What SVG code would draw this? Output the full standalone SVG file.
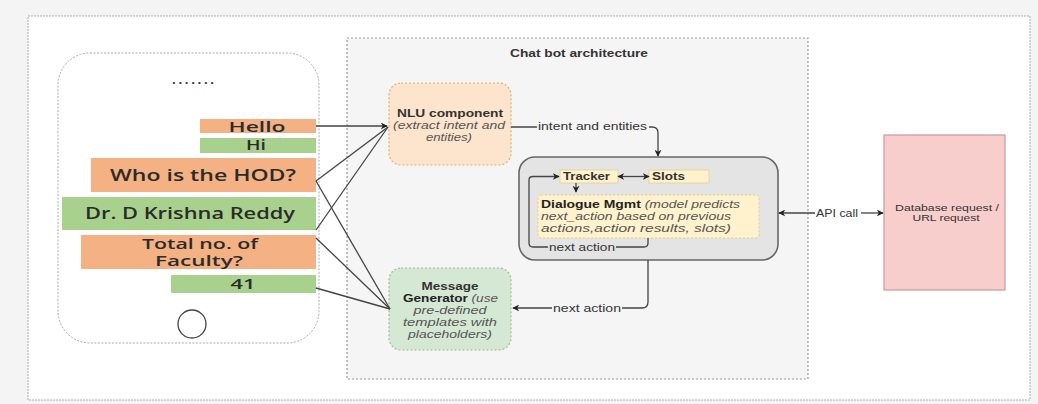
<svg xmlns="http://www.w3.org/2000/svg" width="1038" height="404" viewBox="0 0 1038 404">
<defs>
<style>
.lbl{font-family:"Liberation Sans",Arial,sans-serif;fill:#333;}
.b{font-weight:bold;}
.i{font-style:italic;fill:#555;}
.bub{font-family:"Open Sans","Noto Sans",sans-serif;font-weight:600;font-size:15px;fill:#2b2b2b;text-anchor:middle;}
.or{fill:#f4b183;}
.gr{fill:#a9d18e;}
.con{fill:none;stroke:#444;stroke-width:1.3;}
</style>
<marker id="ah" viewBox="0 0 10 10" refX="9" refY="5" markerWidth="7" markerHeight="7" markerUnits="userSpaceOnUse" orient="auto-start-reverse">
<path d="M0,0 L10,5 L0,10 L3,5 Z" fill="#222"/>
</marker>
</defs>
<rect x="0" y="0" width="1038" height="404" fill="#f4f4f4"/>
<rect x="28" y="16" width="1002" height="384" fill="#fff" stroke="#aaa" stroke-width="1" stroke-dasharray="2 1"/>

<g id="phone">
<rect x="58" y="53" width="261" height="290" rx="32" fill="#fff" stroke="#aaa" stroke-dasharray="2 1.5"/>
<text x="193" y="84" class="bub" style="font-size:13px;font-weight:700;fill:#333" textLength="42" lengthAdjust="spacing">.......</text>
<circle cx="192" cy="324" r="14" fill="none" stroke="#444" stroke-width="1.3"/>
</g>
<g id="msg-hello"><rect class="or" x="200" y="119" width="116" height="14"/><text class="bub" x="257" y="132" textLength="57" lengthAdjust="spacingAndGlyphs">Hello</text></g>
<g id="msg-hi"><rect class="gr" x="200" y="138" width="116" height="15"/><text class="bub" x="256" y="150" textLength="20" lengthAdjust="spacingAndGlyphs">Hi</text></g>
<g id="msg-hod"><rect class="or" x="91" y="158" width="225" height="34"/><text class="bub" x="203" y="181" textLength="186" lengthAdjust="spacingAndGlyphs" style="font-size:15.5px">Who is the HOD?</text></g>
<g id="msg-reddy"><rect class="gr" x="62" y="197" width="254" height="33"/><text class="bub" x="190" y="219" textLength="210" lengthAdjust="spacingAndGlyphs" style="font-size:15.5px">Dr. D Krishna Reddy</text></g>
<g id="msg-total"><rect class="or" x="81" y="235" width="235" height="34"/><text class="bub" x="200" y="249" textLength="116" lengthAdjust="spacingAndGlyphs" style="font-size:14px">Total no. of</text><text class="bub" x="199" y="266" textLength="88" lengthAdjust="spacingAndGlyphs" style="font-size:14px">Faculty?</text></g>
<g id="msg-41"><rect class="gr" x="171" y="275" width="145" height="18"/><text class="bub" x="243" y="289" textLength="25" lengthAdjust="spacingAndGlyphs">41</text></g>

<g id="chatbot-container">
<rect x="347" y="38" width="461" height="341" fill="#f5f5f5" stroke="#999" stroke-width="1.2" stroke-dasharray="2 2"/>
<text class="lbl b" x="579" y="57" font-size="11" text-anchor="middle" textLength="138" lengthAdjust="spacingAndGlyphs" fill="#222">Chat bot architecture</text>
</g>

<g id="nlu">
<rect x="389" y="83" width="122" height="82" rx="12" fill="#fde4cc" stroke="#e0b070" stroke-width="1.2" stroke-dasharray="2 2"/>
<text class="lbl b" x="450" y="117" font-size="11.5" text-anchor="middle" textLength="106" lengthAdjust="spacingAndGlyphs" fill="#222">NLU component</text>
<text class="lbl i" x="449" y="129" font-size="11" text-anchor="middle" textLength="112" lengthAdjust="spacingAndGlyphs">(extract intent and</text>
<text class="lbl i" x="449" y="141" font-size="11" text-anchor="middle" textLength="46" lengthAdjust="spacingAndGlyphs">entities)</text>
</g>

<g id="dialogue-group">
<rect x="519" y="157" width="259" height="103" rx="16" fill="#e4e4e4" stroke="#666" stroke-width="1.6"/>
</g>
<g id="tracker">
<rect x="560" y="170" width="58" height="13" fill="#fff2cc" stroke="#e6d49a" stroke-width="1"/>
<text class="lbl b" x="563" y="180" font-size="10.5" textLength="47" lengthAdjust="spacingAndGlyphs" fill="#222">Tracker</text>
</g>
<g id="slots">
<rect x="649" y="170" width="60" height="13" fill="#fff2cc" stroke="#e6d49a" stroke-width="1"/>
<text class="lbl b" x="652" y="180" font-size="10.5" textLength="33" lengthAdjust="spacingAndGlyphs" fill="#222">Slots</text>
</g>
<g id="dialogue-mgmt">
<rect x="538" y="195" width="221" height="43" rx="3" fill="#fff2cc" stroke="#e0cc88" stroke-width="1" stroke-dasharray="2 2"/>
<text class="lbl" x="541" y="208" font-size="10.5" textLength="199" lengthAdjust="spacingAndGlyphs"><tspan class="b" fill="#222">Dialogue Mgmt</tspan><tspan class="i"> (model predicts</tspan></text>
<text class="lbl i" x="541" y="220" font-size="10.5" textLength="190" lengthAdjust="spacingAndGlyphs">next_action based on previous</text>
<text class="lbl i" x="541" y="232" font-size="10.5" textLength="190" lengthAdjust="spacingAndGlyphs">actions,action results, slots)</text>
</g>

<g id="msg-generator">
<rect x="389" y="268" width="122" height="82" rx="12" fill="#d5e8d4" stroke="#9cc08f" stroke-width="1.2" stroke-dasharray="2 2"/>
<text class="lbl b" x="450" y="290" font-size="11.5" text-anchor="middle" textLength="57" lengthAdjust="spacingAndGlyphs" fill="#222">Message</text>
<text class="lbl" x="403" y="302" font-size="11" textLength="95" lengthAdjust="spacingAndGlyphs"><tspan class="b" fill="#222">Generator</tspan><tspan class="i"> (use</tspan></text>
<text class="lbl i" x="450" y="314" font-size="11" text-anchor="middle" textLength="73" lengthAdjust="spacingAndGlyphs">pre-defined</text>
<text class="lbl i" x="450" y="326" font-size="11" text-anchor="middle" textLength="94" lengthAdjust="spacingAndGlyphs">templates with</text>
<text class="lbl i" x="450" y="338" font-size="11" text-anchor="middle" textLength="84" lengthAdjust="spacingAndGlyphs">placeholders)</text>
</g>

<g id="database">
<rect x="884" y="135" width="121" height="155" fill="#f8cecc" stroke="#c99" stroke-width="1.2"/>
<text class="lbl" x="947" y="211" font-size="9" text-anchor="middle" textLength="104" lengthAdjust="spacingAndGlyphs" fill="#664">Database request /</text>
<text class="lbl" x="946" y="221" font-size="9" text-anchor="middle" textLength="67" lengthAdjust="spacingAndGlyphs" fill="#664">URL request</text>
</g>

<g id="connectors">
<path class="con" d="M316,126 L387,126" marker-end="url(#ah)"/>
<path class="con" d="M316,181 L388,127"/>
<path class="con" d="M316,230 L388,127"/>
<path class="con" d="M316,181 L390,309"/>
<path class="con" d="M316,238 L390,309"/>
<path class="con" d="M316,288 L390,309"/>
<path class="con" d="M511,127 L652,127 Q658,127 658,133 L658,156" marker-end="url(#ah)"/>
<rect x="537" y="120" width="112" height="12" fill="#f5f5f5"/>
<text class="lbl" x="538" y="130" font-size="10.5" textLength="109" lengthAdjust="spacingAndGlyphs" fill="#444">intent and entities</text>
<path class="con" d="M618,176.5 L649,176.5" marker-start="url(#ah)" marker-end="url(#ah)"/>
<path class="con" d="M576,183 L576,192" marker-end="url(#ah)"/>
<path class="con" d="M648,238 L648,243 Q648,247 644,247 L533,247 Q529,247 529,243 L529,180 Q529,176.5 533,176.5 L559,176.5" marker-end="url(#ah)"/>
<rect x="548" y="242" width="68" height="11" fill="#e4e4e4"/>
<text class="lbl" x="549" y="251" font-size="10.5" textLength="66" lengthAdjust="spacingAndGlyphs" fill="#444">next action</text>
<path class="con" d="M648,260 L648,302 Q648,308 642,308 L513,308" marker-end="url(#ah)"/>
<rect x="552" y="302" width="70" height="12" fill="#f5f5f5"/>
<text class="lbl" x="553" y="312" font-size="10.5" textLength="68" lengthAdjust="spacingAndGlyphs" fill="#444">next action</text>
<path class="con" d="M815,213 L779,213" marker-end="url(#ah)"/>
<text class="lbl" x="816" y="217" font-size="11" textLength="42" lengthAdjust="spacingAndGlyphs" fill="#444">API call</text>
<path class="con" d="M861,213 L883,213" marker-end="url(#ah)"/>
</g>
</svg>
